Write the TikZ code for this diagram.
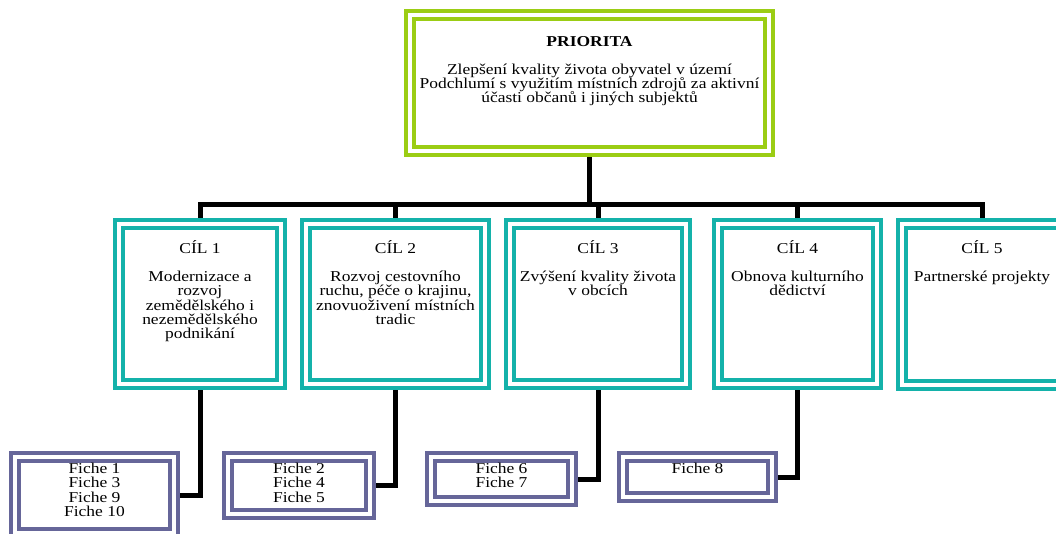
\documentclass[tikz,border=0pt]{standalone}
\usepackage{fontspec}
\setmainfont{Liberation Serif}[FakeStretch=1.16]
\usepackage{tikz}
\usetikzlibrary{backgrounds}

\definecolor{prioGreen}{RGB}{155,205,20}
\definecolor{cilTeal}{RGB}{20,178,170}
\definecolor{ficheViolet}{RGB}{102,102,153}

% text block of fixed size, set from the top
\newcommand{\boxtext}[4]{\parbox[t][#2][t]{#1}{\centering\vspace*{#3}#4}}

\begin{document}
\begin{tikzpicture}[x = 0.75pt, y = -0.75pt,
font = \fontsize{11.3}{10.8}\selectfont]

\tikzset{
	box_base/.style = {
		draw, fill = white, line width = 3.4pt,
		double = white, double distance = 2.5pt, inner sep = 0pt
	},
	prio_box/.style = {box_base, draw = prioGreen},
	cil_box/.style = {box_base, draw = cilTeal},
	fiche_box/.style = {box_base, draw = ficheViolet},
	link/.style = {line width = 3.75pt, draw = black}
}

\useasboundingbox (0,0) rectangle (1056,533);

\node[prio_box] (prio) at (589.5,83) {\boxtext{269.25pt}{102pt}{16pt}{\textbf{PRIORITA}\\[10pt]
	Zlepšení kvality života obyvatel v území\\ Podchlumí s využitím místních zdrojů za aktivní\\ účasti občanů i jiných subjektů}}; % Priorita

\node[cil_box] (cil1) at (200,304) {\boxtext{121.5pt}{120pt}{12.5pt}{CÍL 1\\[10pt]
	Modernizace a\\ rozvoj\\ zemědělského i\\ nezemědělského\\ podnikání}};
\node[cil_box] (cil2) at (395.5,304) {\boxtext{134.25pt}{120pt}{12.5pt}{CÍL 2\\[10pt]
	Rozvoj cestovního\\ ruchu, péče o krajinu,\\ znovuoživení místních\\ tradic}};
\node[cil_box] (cil3) at (598,304) {\boxtext{132pt}{120pt}{12.5pt}{CÍL 3\\[10pt]
	Zvýšení kvality života\\ v obcích}};
\node[cil_box] (cil4) at (797.5,304) {\boxtext{119.25pt}{120pt}{12.5pt}{CÍL 4\\[10pt]
	Obnova kulturního\\ dědictví}};
\node[cil_box] (cil5) at (982,304.5) {\boxtext{120pt}{120.75pt}{12.5pt}{CÍL 5\\[10pt]
	Partnerské projekty}}; % Cíle

\node[fiche_box] (fiche1) at (94.5,495) {\boxtext{119.25pt}{57pt}{4.5pt}{Fiche 1\\ Fiche 3\\ Fiche 9\\ Fiche 10}};
\node[fiche_box] (fiche2) at (299,485.5) {\boxtext{106.5pt}{42.75pt}{4.5pt}{Fiche 2\\ Fiche 4\\ Fiche 5}};
\node[fiche_box] (fiche3) at (501.5,479) {\boxtext{105.75pt}{33pt}{4.5pt}{Fiche 6\\ Fiche 7}};
\node[fiche_box] (fiche4) at (697.5,477) {\boxtext{111.75pt}{30pt}{4.5pt}{Fiche 8}}; % Fiche

\coordinate (bar) at (589.5,204);
\begin{pgfonlayer}{background}
\draw[link] (prio) -- (bar);
\foreach \c in {cil1,cil2,cil3,cil4,cil5}
	\draw[link] (bar) -| (\c);
\foreach \c/\f in {cil1/fiche1,cil2/fiche2,cil3/fiche3,cil4/fiche4}
	\draw[link] (\c) |- (\f);
\end{pgfonlayer}
\end{tikzpicture}
\end{document}
